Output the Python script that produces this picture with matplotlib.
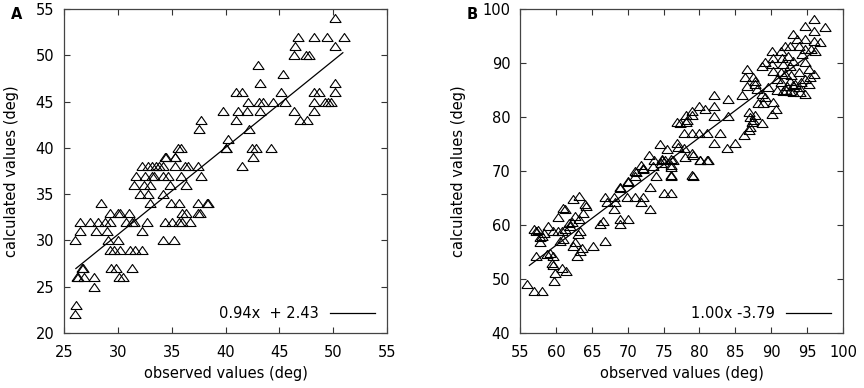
import numpy as np
import matplotlib
matplotlib.use('Agg')
import matplotlib.pyplot as plt

# panel A: observed vs calculated
obs_a = [26.0, 26.1, 26.0, 26.5, 26.5, 27.4, 28.2, 28.4, 28.8, 29.0, 29.3, 29.3, 30.2, 31.0,
         30.8, 31.3, 31.5, 32.2, 32.7, 30.0, 29.3, 29.6, 30.2, 31.1, 31.6, 32.2, 29.4, 29.8,
         31.3, 30.1, 30.5, 26.2, 26.7, 26.9, 27.8, 27.8, 26.3, 26.8, 34.2, 35.2, 34.4, 35.0,
         35.7, 36.0, 36.7, 36.0, 36.3, 34.9, 35.7, 37.4, 38.3, 37.4, 32.1, 32.8, 33.0, 34.2,
         31.5, 32.4, 31.7, 32.5, 32.2, 32.8, 33.2, 33.5, 33.8, 34.2, 34.7, 34.2, 33.4, 35.3,
         36.2, 36.5, 37.4, 35.9, 37.7, 36.3, 34.8, 34.4, 35.3, 35.6, 35.9, 40.0, 33.2, 29.1,
         50.2, 46.7, 48.2, 49.4, 51.0, 46.5, 50.2, 46.4, 47.5, 47.8, 43.0, 45.3, 43.2, 50.2,
         41.0, 41.5, 45.2, 48.2, 48.7, 50.2, 42.1, 43.1, 43.5, 44.4, 45.5, 48.2, 49.2, 49.5,
         49.8, 39.8, 41.2, 42.0, 43.2, 46.4, 48.2, 46.9, 47.6, 41.0, 37.7, 37.5, 42.2, 40.2,
         40.0, 42.5, 42.8, 44.2, 42.6, 41.5, 34.5, 35.3, 37.6, 38.4, 33.0, 30.0, 28.0]
calc_a = [22, 23, 30, 32, 31, 32, 32, 34, 32, 31, 32, 33, 33, 33,
          32, 32, 32, 31, 32, 30, 29, 29, 29, 29, 29, 29, 27, 27,
          27, 26, 26, 26, 27, 26, 26, 25, 26, 27, 30, 30, 32, 32,
          32, 32, 32, 33, 33, 34, 34, 34, 34, 33, 35, 35, 34, 35,
          36, 36, 37, 37, 38, 38, 38, 38, 38, 38, 37, 37, 37, 38,
          38, 38, 38, 37, 37, 36, 36, 39, 39, 40, 40, 40, 37, 30,
          54, 52, 52, 52, 52, 51, 51, 50, 50, 50, 49, 48, 47, 47,
          46, 46, 46, 46, 46, 46, 45, 45, 45, 45, 45, 45, 45, 45,
          45, 44, 44, 44, 44, 44, 44, 43, 43, 43, 43, 42, 42, 41,
          40, 40, 40, 40, 39, 38, 39, 39, 33, 34, 36, 33, 31]
slope_a, icpt_a = 0.94, 2.43
fit_x_a = [26.1, 50.9]

# panel B
obs_b = [56.0, 56.9, 58.0, 59.7, 59.9, 61.4, 60.9, 59.6, 59.4, 57.2, 58.7, 59.2, 59.6, 63.0,
         63.3, 63.6, 62.4, 62.6, 65.2, 66.9, 57.8, 57.8, 58.0, 56.9, 57.2, 58.9, 59.6, 60.3,
         60.8, 61.2, 60.3, 61.0, 61.2, 62.0, 62.2, 62.6, 60.6, 61.0, 63.1, 63.3, 62.4, 63.2,
         64.0, 64.2, 63.8, 63.2, 66.1, 66.6, 66.9, 67.1, 68.1, 68.2, 68.1, 68.9, 68.9, 70.0,
         68.9, 69.9, 71.0, 72.1, 71.9, 73.1, 70.0, 71.0, 71.0, 71.9, 72.1, 57.5, 58.3, 61.8,
         73.0, 73.6, 75.2, 76.3, 76.1, 74.0, 76.0, 79.1, 72.2, 71.2, 70.1, 68.9, 73.1, 75.0,
         76.1, 77.3, 78.2, 77.0, 78.0, 79.1, 80.1, 81.2, 74.5, 75.5, 74.8, 73.5,
         95.9, 94.7, 96.0, 97.5, 93.1, 93.6, 94.7, 95.9, 96.8, 91.9, 92.6, 93.8, 94.7, 95.6,
         96.1, 90.1, 91.3, 90.3, 91.5, 92.4, 93.1, 94.3, 89.2, 88.7, 90.1, 91.7, 92.6, 94.7,
         95.2, 95.9, 90.3, 91.3, 86.6, 86.4, 87.5, 87.8, 86.6, 88.0, 87.8, 85.9, 88.7, 89.2,
         88.9, 88.2, 90.3, 90.6, 90.1, 90.8, 91.3, 91.7, 92.2, 92.6, 93.1, 92.6, 93.3, 93.8,
         94.0, 94.7, 95.2, 95.4, 91.9, 92.8, 93.8, 94.7, 86.9, 87.1, 87.3, 87.1, 87.5, 87.8,
         88.7, 86.2, 86.9, 85.0, 83.8, 82.0, 84.0, 79.9, 79.0, 80.8, 82.0, 82.0, 84.0, 76.9,
         78.1, 78.1, 79.0, 77.9, 79.0, 79.9, 81.1, 82.9, 82.0, 76.9, 77.8, 79.0, 80.1, 81.1,
         74.8, 76.0, 76.0, 74.6, 76.0, 79.0, 92.0, 93.0, 94.2, 89.5, 90.8]
calc_b = [49.1, 47.8, 47.8, 49.7, 51.1, 51.5, 52.0, 52.6, 53.0, 54.3, 54.6, 54.9, 54.3, 54.3,
          55.2, 55.8, 56.2, 56.8, 56.2, 57.1, 56.8, 57.7, 58.0, 59.2, 58.9, 59.8, 58.9, 58.9,
          58.9, 59.2, 61.4, 63.2, 62.9, 59.8, 60.5, 61.7, 57.1, 57.4, 58.3, 58.9, 64.8, 65.4,
          63.8, 63.5, 62.3, 61.1, 60.2, 60.8, 65.1, 64.2, 65.1, 64.2, 63.0, 61.1, 60.2, 61.1,
          66.9, 65.1, 65.1, 65.1, 64.2, 63.0, 68.2, 69.1, 70.0, 71.2, 70.3, 59.0, 58.5, 60.3,
          73.0, 72.0, 72.0, 72.0, 70.8, 69.1, 69.1, 69.1, 70.5, 69.9, 68.0, 67.1, 67.1, 65.9,
          66.0, 78.8, 79.4, 74.5, 72.6, 73.0, 72.0, 72.0, 75.0, 74.0, 72.0, 71.0,
          98.1, 96.9, 96.0, 96.6, 95.3, 94.4, 94.4, 94.1, 93.8, 93.2, 93.2, 93.2, 92.6, 92.6,
          92.3, 92.3, 92.3, 91.0, 91.0, 91.3, 90.4, 91.7, 90.1, 89.5, 89.8, 89.8, 89.5, 90.1,
          88.9, 88.0, 88.6, 88.3, 88.9, 87.4, 87.4, 86.7, 85.8, 85.2, 86.1, 84.0, 84.3, 83.7,
          82.5, 82.5, 82.8, 81.5, 80.6, 87.1, 86.4, 84.9, 85.8, 84.9, 84.6, 86.7, 86.1, 85.5,
          84.6, 84.3, 86.1, 87.4, 88.0, 87.7, 88.3, 87.1, 80.9, 80.0, 79.1, 78.2, 79.4, 80.3,
          78.8, 76.6, 77.5, 75.1, 74.2, 84.1, 83.3, 82.1, 81.2, 81.5, 82.1, 80.2, 80.2, 79.1,
          79.1, 80.3, 80.3, 77.1, 77.1, 77.1, 77.1, 77.1, 75.1, 75.1, 74.2, 73.3, 72.0, 72.0,
          72.3, 72.3, 71.1, 71.4, 69.3, 69.3, 85.0, 86.0, 86.5, 85.5, 85.0]
slope_b, icpt_b = 1.00, -3.79
fit_x_b = [56.3, 96.0]

tri = [(-1, -0.72), (1, -0.72), (0, 0.72), (-1, -0.72)]


def draw_panel(ax, xs, ys, slope, icpt, fit_x, label, xlim, ylim, xstep, ystep, letter, ylpad):
    ax.plot(xs, ys, linestyle='none', marker=tri, ms=8, mfc='none', mec='black', mew=0.8)
    fx = np.array(fit_x)
    ax.plot(fx, slope * fx + icpt, color='black', lw=0.9, label=label)
    ax.set_xlim(*xlim)
    ax.set_ylim(*ylim)
    ax.set_xticks(np.arange(xlim[0], xlim[1] + 0.1, xstep))
    ax.set_yticks(np.arange(ylim[0], ylim[1] + 0.1, ystep))
    ax.tick_params(direction='in', top=True, right=True, length=4.5, width=0.8,
                   labelsize=10.5, color='#333333')
    ax.tick_params(axis='x', pad=9)
    ax.tick_params(axis='y', pad=7)
    for s in ax.spines.values():
        s.set_color('#444444')
        s.set_linewidth(0.9)
    ax.set_xlabel('observed values (deg)', fontsize=10.5, labelpad=4)
    ax.set_ylabel('calculated values (deg)', fontsize=10.5, labelpad=ylpad)
    ax.legend(loc='lower right', frameon=False, markerfirst=False, handlelength=3.1,
              fontsize=10.5, borderaxespad=0.4, handletextpad=0.8)
    ax.figure.text(ax.get_position().x0 - 0.062, 0.982, letter, fontsize=10.5,
                   fontweight='bold', va='top', ha='left')


fig = plt.figure(figsize=(8.64, 3.88), dpi=100)
ax1 = fig.add_axes([0.0741, 0.1418, 0.3738, 0.835])
ax2 = fig.add_axes([0.6019, 0.1418, 0.3738, 0.835])
draw_panel(ax1, obs_a, calc_a, slope_a, icpt_a, fit_x_a, '0.94x  + 2.43',
           (25, 55), (20, 55), 5, 5, 'A', 12)
draw_panel(ax2, obs_b, calc_b, slope_b, icpt_b, fit_x_b, '1.00x -3.79',
           (55, 100), (40, 100), 5, 10, 'B', 12)
fig.savefig('out.png', dpi=100)
